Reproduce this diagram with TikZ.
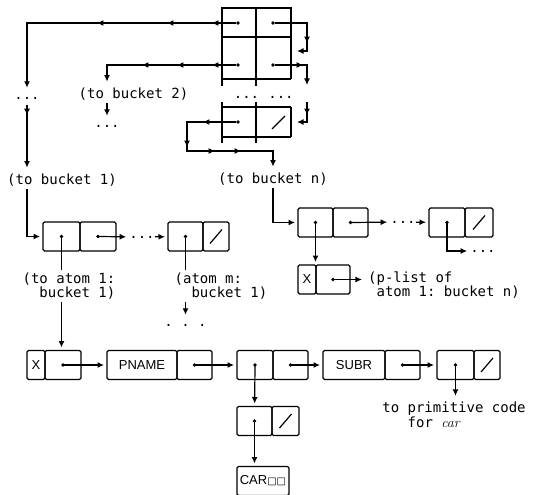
\documentclass[tikz,border=0pt]{standalone}
\usepackage{fontspec}
\setmonofont{DejaVu Sans Mono}
\newfontfamily\boxfont{Liberation Sans}
\newfontfamily\symbfont{DejaVu Sans}
\usetikzlibrary{arrows.meta,positioning,decorations.markings}
\tikzset{
  cell/.style={draw,line width=1.2pt,rounded corners=1.5pt,minimum height=29pt,inner sep=0pt,outer sep=0pt,font=\boxfont\fontsize{13}{13}\selectfont},
  ptr/.style={cell,path picture={\fill (path picture bounding box.center) circle (1.9pt);}},
  nil/.style={cell,path picture={\draw[line width=1.2pt] ([shift={(-6pt,-7pt)}]path picture bounding box.center) -- ([shift={(6pt,7pt)}]path picture bounding box.center);}},
  dot/.style={circle,fill,inner sep=0pt,minimum size=3.8pt},
  lbl/.style={font=\ttfamily\fontsize{14}{14}\selectfont,inner sep=3pt,align=left},
  etc/.style={font=\ttfamily\fontsize{14}{14}\selectfont,inner xsep=0pt,inner ysep=6pt},
  tbl/.style={line width=1.2pt},
  ln/.style={line width=1.2pt},
  ar/.style={ln,-{Latex[length=6.5pt,width=6pt]},shorten >=3pt},
  midtip/.style={postaction={decorate,decoration={markings,mark=at position #1 with {\arrow{Latex[length=6.5pt,width=6pt]}}}}},
}
\begin{document}
\begin{tikzpicture}[x=1pt,y=-1pt]
  \useasboundingbox (0,0) rectangle (533,495);
  % bucket table
  \draw[tbl] (222,86) -- (222,8) -- (291,8) -- (291,79);
  \draw[tbl] (256,8) -- (256,86);
  \draw[tbl] (222,37) -- (291,37);
  \draw[tbl] (222,79) -- (291,79);
  \draw[tbl] (222,102) -- (222,143);
  \draw[tbl] (256,102) -- (256,143);
  \draw[tbl] (291,107) -- (291,137);
  \draw[tbl] (222,107) -- (291,107);
  \draw[tbl] (222,137) -- (291,137);
  \draw[tbl] (272,129) -- (285,116);
  \node[dot] (d11) at (238,23) {};
  \node[dot] (d12) at (273,23) {};
  \node[dot] (d21) at (238,65) {};
  \node[dot] (d22) at (273,65) {};
  \node[dot] (dn1) at (238,122) {};
  \node[etc] (te1) at (246.5,97) {...};
  \node[etc] (te2) at (281,97) {...};
  \coordinate (rr1) at (307,51);
  \coordinate (in2) at (294,51);
  \coordinate (rr2) at (307,88);
  \coordinate (rr3) at (307,102);
  \coordinate (in3) at (294,122);
  \coordinate (lp) at (187,151);

  % labels
  \node[etc] (lbdots) at (27,98) {...};
  \node[lbl] (tb1) at (62,180) {(to bucket 1)};
  \node[lbl] (tb2) at (133.5,94) {(to bucket 2)};
  \node[etc] (b2dots) at (107,126) {...};
  \node[lbl] (tbn) at (273,179) {(to bucket n)};

  % bucket 1
  \node[ptr,minimum width=37pt] (b1a) at (61.5,236.5) {};
  \node[ptr,minimum width=36pt,right=0pt of b1a] (b1d) {};
  \node[etc] (e1) at (142,237) {...};
  \node[ptr,minimum width=35pt,right=52pt of b1d] (b2a) {};
  \node[nil,minimum width=26pt,right=0pt of b2a] (b2d) {};
  \node[lbl] (ta1) at (69,286) {(to atom 1:\\~~bucket 1)};
  \node[lbl] (tam) at (221,286) {(atom m:\\~~bucket 1)};
  \node[etc] (ed) at (185.5,325) {. . .};

  % bucket n
  \node[ptr,minimum width=35pt] (bAa) at (315.5,222.5) {};
  \node[ptr,minimum width=35pt,right=0pt of bAa] (bAd) {};
  \node[etc] (eA) at (403,222) {...};
  \node[ptr,minimum width=36pt,right=61pt of bAd] (bBa) {};
  \node[nil,minimum width=28pt,right=0pt of bBa] (bBd) {};
  \node[etc] (eB) at (483,251) {...};
  \node[cell,minimum width=18pt,below=28pt of bAa.south west,anchor=north west] (xA) {X};
  \node[ptr,minimum width=34pt,right=0pt of xA] (xAd) {};
  \node[lbl] (tpl) at (444,285) {(p-list of\\~atom 1: bucket n)};

  % atom
  \node[cell,minimum width=18pt] (mX) at (36,365) {X};
  \node[ptr,minimum width=36pt,right=0pt of mX] (mXd) {};
  \node[cell,minimum width=70pt,right=26pt of mXd] (mP) {PNAME};
  \node[ptr,minimum width=35pt,right=0pt of mP] (mPd) {};
  \node[ptr,minimum width=36pt,right=25pt of mPd] (m3a) {};
  \node[ptr,minimum width=35pt,right=0pt of m3a] (m3d) {};
  \node[cell,minimum width=62pt,right=15pt of m3d] (mS) {SUBR};
  \node[ptr,minimum width=35pt,right=0pt of mS] (mSd) {};
  \node[ptr,minimum width=37pt,right=17pt of mSd] (m5a) {};
  \node[nil,minimum width=26pt,right=0pt of m5a] (m5d) {};
  \node[ptr,minimum width=35pt,below=27pt of m3a.south west,anchor=north west] (m6a) {};
  \node[nil,minimum width=27pt,right=0pt of m6a] (m6d) {};
  \node[cell,minimum width=52pt,below=31pt of m6a.south west,anchor=north west] (car) {CAR{\symbfont\fontsize{10}{10}\selectfont □□}};
  \node[lbl,font=\ttfamily\fontsize{14}{15}\selectfont] (tprim) at (454,415) {to primitive code\\~~~for {\rmfamily\itshape car}};

  % table links
  \draw[ar,midtip=24pt,midtip=69pt,midtip=139pt] (d11) -| (lbdots);
  \draw[ar,midtip=10pt] (lbdots) -- (lbdots |- tb1.north);
  \draw[ar] (lbdots |- tb1.south) |- (b1a);
  \draw[ar,midtip=24pt,midtip=59pt,midtip=94pt] (d21) -| (b2dots |- tb2.north);
  \draw[ar] (b2dots |- tb2.south) -- (b2dots);
  \draw[ar,midtip=52pt] (d12) -| (rr1) -- (in2);
  \draw[ar,midtip=28pt] (d22) -| (rr2);
  \draw[ar,midtip=13pt] (rr3) |- (in3);
  \draw[ar,midtip=33pt,midtip=74pt,midtip=106pt,midtip=132pt] (dn1) -| (lp) -| (tbn);
  \draw[ar] (tbn) |- (bAa);

  % list links
  \draw[ar] (b1d.center) -- (e1);
  \draw[ar] (e1) -- (b2a);
  \draw[ln] (b1a.center) -- (b1a.center |- ta1.north);
  \draw[ar] (b1a.center |- ta1.south) -- (b1a.center |- mXd.north);
  \draw[ln] (b2a.center) -- (b2a.center |- tam.north);
  \draw[ar] (b2a.center |- tam.south) -- (ed);
  \draw[ar] (bAd.center) -- (eA);
  \draw[ar] (eA) -- (bBa);
  \draw[ar] (bBa.center) |- (eB);
  \draw[ar] (bAa.center) -- (bAa.center |- xA.north);
  \draw[ar] (xAd.center) -- (xAd.center -| tpl.west);

  % atom links
  \draw[ar] (mXd.center) -- (mP);
  \draw[ar] (mPd.center) -- (m3a);
  \draw[ar] (m3d.center) -- (mS);
  \draw[ar] (mSd.center) -- (m5a);
  \draw[ar] (m3a.center) -- (m6a);
  \draw[ar] (m6a.center) -- (m6a.center |- car.north);
  \draw[ar] (m5a.center) -- (m5a.center |- tprim.north);
\end{tikzpicture}
\end{document}
